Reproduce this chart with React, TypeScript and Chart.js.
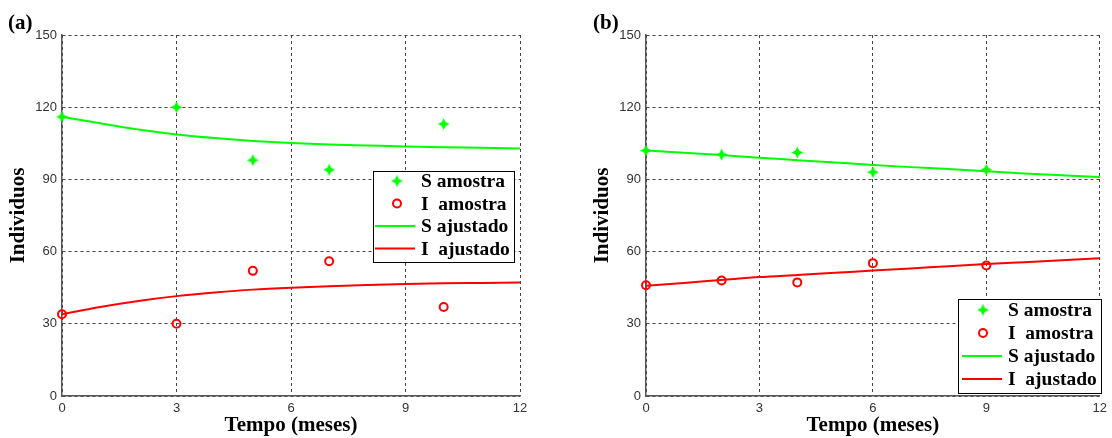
import React, { useEffect, useRef } from "react";
import { Chart, registerables } from "chart.js";
Chart.register(...registerables);

// ---- data ----
const months = [0, 1, 2, 3, 4, 5, 6, 7, 8, 9, 10, 11, 12];
const xTicks = [0, 3, 6, 9, 12];
const yTicks = [0, 30, 60, 90, 120, 150];

// panel (a)
const aSampleT = [0, 3, 5, 7, 10];
const aSampleS = [116, 120, 98, 94, 113];
const aSampleI = [34, 30, 52, 56, 37];
const aFitS = [116, 113.3, 110.7, 108.7, 107.2, 106, 105.1, 104.5, 104.1, 103.7, 103.4, 103.1, 102.8];
const aFitI = [34, 37, 39.5, 41.5, 43, 44.2, 45, 45.6, 46.1, 46.5, 46.8, 47, 47.2];

// panel (b)
const bSampleT = [0, 2, 4, 6, 9];
const bSampleS = [102, 100.3, 101.2, 93, 94];
const bSampleI = [46, 48, 47.2, 55.2, 54.2];
const bFitS = [102, 101.1, 100.1, 99, 98, 97, 96, 95.1, 94.3, 93.4, 92.5, 91.7, 91];
const bFitI = [45.8, 47, 48.2, 49.4, 50.3, 51.2, 52.1, 53, 53.9, 54.8, 55.6, 56.4, 57.2];

const legendLabels = ["S amostra", "I  amostra", "S ajustado", "I  ajustado"];
const xTitle = "Tempo (meses)";
const yTitle = "Individuos";

const GREEN = "#00ff00";
const RED = "#ff0000";

function makeStar(): HTMLCanvasElement {
  const c = document.createElement("canvas");
  const s = 13;
  c.width = s;
  c.height = s;
  const ctx = c.getContext("2d")!;
  const cx = s / 2, cy = s / 2, R = 5.9, r = 2.7;
  ctx.beginPath();
  for (let i = 0; i < 8; i++) {
    const ang = (Math.PI / 4) * i - Math.PI / 2;
    const rad = i % 2 === 0 ? R : r;
    const x = cx + rad * Math.cos(ang);
    const y = cy + rad * Math.sin(ang);
    if (i === 0) ctx.moveTo(x, y);
    else ctx.lineTo(x, y);
  }
  ctx.closePath();
  ctx.fillStyle = GREEN;
  ctx.fill();
  return c;
}

type LegendLayout = {
  box: [number, number, number, number];
  rowY0: number;
  rowStep: number;
  markerX: number;
  lineX1: number;
  lineX2: number;
  textX: number;
};

function PanelChart(props: {
  label: string;
  labelX: number;
  sampleT: number[];
  sampleS: number[];
  sampleI: number[];
  fitS: number[];
  fitI: number[];
  padLeft: number;
  padRight: number;
  legend: LegendLayout;
}) {
  const ref = useRef<HTMLCanvasElement | null>(null);
  useEffect(() => {
    const star = makeStar();
    const p = props;
    const overlay = {
      id: "overlay",
      afterDraw(chart: any) {
        const ctx = chart.ctx as CanvasRenderingContext2D;
        ctx.save();
        // panel label
        ctx.font = 'bold 21px "Liberation Serif"';
        ctx.fillStyle = "#000";
        ctx.textBaseline = "alphabetic";
        ctx.textAlign = "left";
        ctx.fillText(p.label, p.labelX, 29);
        // legend
        const L = p.legend;
        const [x1, y1, x2, y2] = L.box;
        ctx.fillStyle = "#fff";
        ctx.fillRect(x1, y1, x2 - x1, y2 - y1);
        ctx.strokeStyle = "#000";
        ctx.lineWidth = 1;
        ctx.strokeRect(x1 + 0.5, y1 + 0.5, x2 - x1, y2 - y1);
        ctx.font = 'bold 19.5px "Liberation Serif"';
        ctx.textBaseline = "middle";
        for (let i = 0; i < legendLabels.length; i++) {
          const y = L.rowY0 + i * L.rowStep;
          if (i === 0) {
            ctx.drawImage(star, L.markerX - star.width / 2, y - star.height / 2);
          } else if (i === 1) {
            ctx.beginPath();
            ctx.arc(L.markerX, y, 4, 0, Math.PI * 2);
            ctx.strokeStyle = RED;
            ctx.lineWidth = 2;
            ctx.stroke();
          } else {
            ctx.beginPath();
            ctx.moveTo(L.lineX1, y);
            ctx.lineTo(L.lineX2, y);
            ctx.strokeStyle = i === 2 ? GREEN : RED;
            ctx.lineWidth = 2;
            ctx.stroke();
          }
          ctx.fillStyle = "#000";
          ctx.fillText(legendLabels[i], L.textX, y + 1);
        }
        ctx.restore();
      },
    };
    const chart = new Chart(ref.current!, {
      type: "scatter",
      data: {
        datasets: [
          {
            label: legendLabels[0],
            data: p.sampleT.map((t, i) => ({ x: t, y: p.sampleS[i] })),
            pointStyle: star as any,
            pointRadius: 6,
            showLine: false,
            clip: false,
          },
          {
            label: legendLabels[1],
            data: p.sampleT.map((t, i) => ({ x: t, y: p.sampleI[i] })),
            pointStyle: "circle",
            pointRadius: 4,
            pointBorderWidth: 2,
            pointBorderColor: RED,
            pointBackgroundColor: "rgba(0,0,0,0)",
            showLine: false,
            clip: false,
          },
          {
            label: legendLabels[2],
            data: months.map((t, i) => ({ x: t, y: p.fitS[i] })),
            showLine: true,
            borderColor: GREEN,
            borderWidth: 2,
            pointRadius: 0,
            cubicInterpolationMode: "monotone",
            clip: false,
          },
          {
            label: legendLabels[3],
            data: months.map((t, i) => ({ x: t, y: p.fitI[i] })),
            showLine: true,
            borderColor: RED,
            borderWidth: 2,
            pointRadius: 0,
            cubicInterpolationMode: "monotone",
            clip: false,
          },
        ],
      } as any,
      options: {
        animation: false,
        responsive: false,
        events: [],
        layout: { padding: { left: p.padLeft, right: p.padRight, top: 35, bottom: 0 } },
        plugins: { legend: { display: false }, tooltip: { enabled: false } },
        scales: {
          x: {
            type: "linear",
            min: 0,
            max: 12,
            afterFit: (s: any) => { s.height = 42; },
            afterBuildTicks: (s: any) => { s.ticks = xTicks.map((v) => ({ value: v })); },
            ticks: { font: { family: '"Liberation Sans"', size: 13 }, color: "#333", padding: 5, maxRotation: 0 },
            grid: { color: "#444", lineWidth: 1, drawTicks: false },
            border: { display: true, color: "#555", width: 1.5, dash: [3, 3] },
            title: {
              display: true,
              text: xTitle,
              color: "#000",
              font: { family: '"Liberation Serif"', size: 21, weight: "bold" },
              padding: { top: 0, bottom: 0 },
            },
          },
          y: {
            type: "linear",
            min: 0,
            max: 150,
            afterFit: (s: any) => { s.width = 62; },
            afterBuildTicks: (s: any) => { s.ticks = yTicks.map((v) => ({ value: v })); },
            ticks: { font: { family: '"Liberation Sans"', size: 13 }, color: "#333", padding: 5 },
            grid: { color: "#444", lineWidth: 1, drawTicks: false },
            border: { display: true, color: "#555", width: 1.5, dash: [3, 3] },
            title: {
              display: true,
              text: yTitle,
              color: "#000",
              font: { family: '"Liberation Serif"', size: 21, weight: "bold" },
              padding: { top: 6, bottom: 0 },
            },
          },
        },
      } as any,
      plugins: [overlay],
    });
    return () => chart.destroy();
  }, []);
  return <canvas ref={ref} width={556} height={438} style={{ width: 556, height: 438, display: "block" }} />;
}

export default function App() {
  return (
    <div style={{ position: "absolute", left: 0, top: 0, width: 1112, height: 438, background: "#fff", display: "flex" }}>
      <PanelChart
        label="(a)"
        labelX={8}
        sampleT={aSampleT}
        sampleS={aSampleS}
        sampleI={aSampleI}
        fitS={aFitS}
        fitI={aFitI}
        padLeft={0}
        padRight={36}
        legend={{ box: [373, 171, 514, 262], rowY0: 181, rowStep: 22.5, markerX: 397, lineX1: 375, lineX2: 415, textX: 421 }}
      />
      <PanelChart
        label="(b)"
        labelX={37}
        sampleT={bSampleT}
        sampleS={bSampleS}
        sampleI={bSampleI}
        fitS={bFitS}
        fitI={bFitI}
        padLeft={28}
        padRight={7}
        legend={{ box: [402, 299, 545, 393], rowY0: 310, rowStep: 23, markerX: 427, lineX1: 406, lineX2: 446, textX: 452 }}
      />
    </div>
  );
}
